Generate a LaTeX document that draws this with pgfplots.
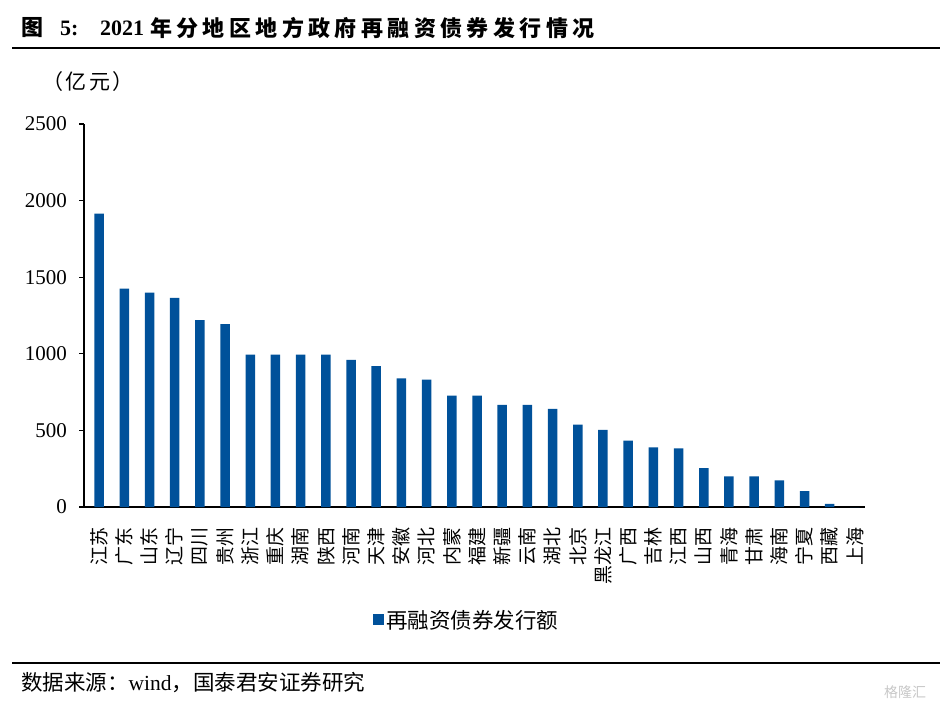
\documentclass[border=0pt]{standalone}
\usepackage{pgfplots}
\pgfplotsset{compat=1.18}
\usepackage{fontspec}
\setmainfont{Liberation Serif}
\newfontfamily\cjk{Noto Sans CJK SC}
\newfontfamily\cjkwide[LetterSpace=12]{Noto Sans CJK SC}
\newfontfamily\cjktitle[LetterSpace=20]{Noto Sans CJK SC}
\definecolor{barblue}{RGB}{0,81,154}
\begin{document}
\begin{tikzpicture}
\useasboundingbox (0,0) rectangle (950pt,713pt);
% title and rules
\node[anchor=west, inner sep=0pt] at (21pt,685pt) {\cjk\bfseries\fontsize{22pt}{22pt}\selectfont 图};
\node[anchor=west, inner sep=0pt] at (60pt,685pt) {\bfseries\fontsize{22pt}{22pt}\selectfont 5:};
\node[anchor=west, inner sep=0pt] at (100pt,685pt) {\bfseries\fontsize{22pt}{22pt}\selectfont 2021};
\node[anchor=west, inner sep=0pt] at (150pt,685pt) {\cjktitle\bfseries\fontsize{22pt}{22pt}\selectfont 年分地区地方政府再融资债券发行情况};
\draw[line width=2pt] (12pt,665.3pt) -- (940pt,665.3pt);
\node[anchor=west, inner sep=0pt] at (42pt,631.5pt) {\cjkwide\fontsize{21pt}{21pt}\selectfont （亿元）};
\draw[line width=2pt] (12pt,50pt) -- (940pt,50pt);
\node[anchor=west, inner sep=0pt] at (21pt,30pt) {\fontsize{21.5pt}{21.5pt}\selectfont{\cjk 数据来源：}wind{\cjk ，国泰君安证券研究}};
\node[anchor=center, inner sep=0pt, text=black!22] at (905pt,21pt) {\cjk\fontsize{14pt}{14pt}\selectfont 格隆汇};
\begin{axis}[
  at={(84pt,206pt)}, anchor=south west,
  scale only axis, width=781pt, height=383pt,
  xmin=-0.6, xmax=30.4, ymin=0, ymax=2500,
  axis lines=left,
  axis line style={-, line width=1.6pt, black},
  ytick={0,500,...,2500},
  xtick={0,...,30},
  xticklabels={江苏,广东,山东,辽宁,四川,贵州,浙江,重庆,湖南,陕西,河南,天津,安徽,河北,内蒙,福建,新疆,云南,湖北,北京,黑龙江,广西,吉林,江西,山西,青海,甘肃,海南,宁夏,西藏,上海},
  major x tick style={draw=none},
  major y tick style={line width=1.2pt, black},
  tick align=outside, major tick length=5pt,
  ytick pos=left,
  /pgf/number format/assume math mode=true,
  /pgf/number format/1000 sep={},
  yticklabel style={font=\fontsize{21pt}{21pt}\selectfont, inner sep=0pt, xshift=-12pt},
  xticklabel style={font=\cjk\fontsize{19pt}{19pt}\selectfont, rotate=90, anchor=east, inner sep=0pt, xshift=0pt},
  xticklabel shift=15pt,
  ybar, bar width=9.5pt,
  legend style={at={(0.49,-0.295)}, anchor=center, draw=none, fill=none,
    font=\cjk\fontsize{21.5pt}{21.5pt}\selectfont, inner sep=0pt},
  legend image code/.code={\fill[barblue] (0pt,-5.5pt) rectangle (11pt,5.5pt);},
]
\addplot[fill=barblue, draw=none] coordinates {
(0,1915) (1,1425) (2,1400) (3,1365) (4,1219) (5,1193) (6,995) (7,995) (8,995) (9,995)
(10,960) (11,919) (12,840) (13,832) (14,727) (15,727) (16,666) (17,666) (18,640) (19,538)
(20,503) (21,433) (22,390) (23,383) (24,253) (25,200) (26,200) (27,174) (28,104) (29,20) (30,0)
};
\addlegendentry{再融资债券发行额}
\end{axis}
\end{tikzpicture}
\end{document}
